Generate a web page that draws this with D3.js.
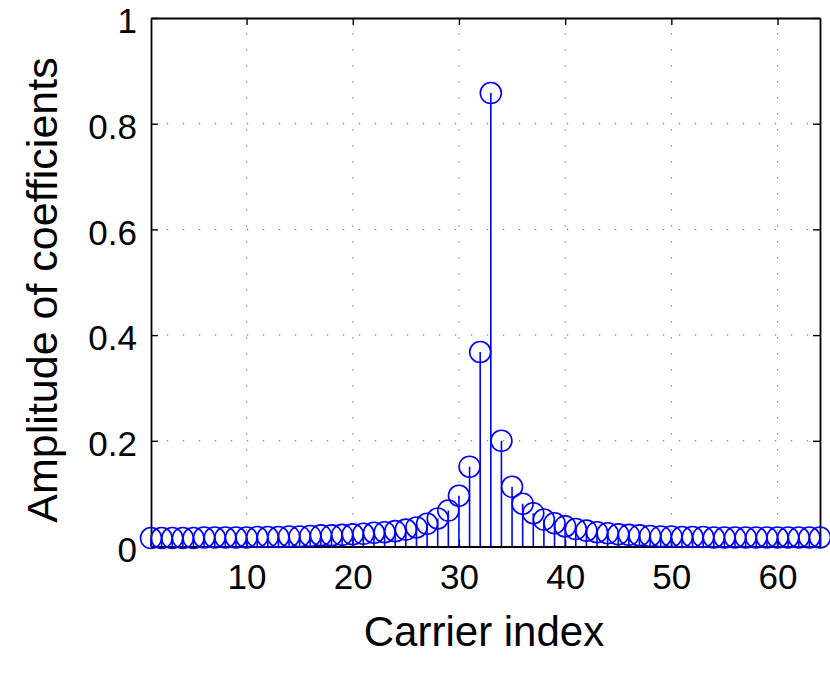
<!DOCTYPE html>
<html>
<head>
<meta charset="utf-8">
<script src="https://cdn.jsdelivr.net/npm/d3@7"></script>
<style>
  html, body { margin: 0; padding: 0; background: #fff; }
  svg { display: block; font-family: "Liberation Sans", Arial, Helvetica, sans-serif; }
</style>
</head>
<body>
<svg id="chart" width="830" height="677"></svg>
<script>
// Carrier indices 1..64 and the magnitude of each coefficient
const carriers = d3.range(1, 65);
const amplitudes = [
  0.016, 0.016, 0.016, 0.016, 0.016, 0.017, 0.017, 0.017, 0.017, 0.017,
  0.018, 0.018, 0.018, 0.019, 0.019, 0.020, 0.021, 0.021, 0.022, 0.023,
  0.024, 0.026, 0.027, 0.029, 0.032, 0.036, 0.043, 0.053, 0.068, 0.096,
  0.151, 0.368, 0.858, 0.200, 0.113, 0.081, 0.063, 0.051, 0.044, 0.038,
  0.033, 0.030, 0.027, 0.025, 0.023, 0.022, 0.021, 0.020, 0.019, 0.019,
  0.018, 0.018, 0.018, 0.017, 0.017, 0.017, 0.017, 0.017, 0.017, 0.017,
  0.017, 0.017, 0.017, 0.017
];
const xTicks = [10, 20, 30, 40, 50, 60];
const yTicks = [0, 0.2, 0.4, 0.6, 0.8, 1];
const xTitle = "Carrier index";
const yTitle = "Amplitude of coefficients";

const plot = { left: 151, right: 820, top: 18, bottom: 546.5 };
const svg = d3.select("#chart");

const x = d3.scaleLinear().domain([1, 64]).range([plot.left, plot.right]);
const y = d3.scaleLinear().domain([0, 1]).range([plot.bottom, plot.top]);

const fmtY = d => (d === 0 || d === 1) ? String(d) : d3.format(".1f")(d);

// Dotted grid
const grid = svg.append("g").attr("stroke", "#222").attr("stroke-width", 1)
  .attr("stroke-dasharray", "1.2,14.8").attr("opacity", 0.75);
grid.selectAll("line.gx").data(xTicks).join("line").attr("class", "gx")
  .attr("x1", d => x(d)).attr("x2", d => x(d))
  .attr("y1", plot.bottom).attr("y2", plot.top);
grid.selectAll("line.gy").data(yTicks.filter(d => d > 0 && d < 1)).join("line").attr("class", "gy")
  .attr("y1", d => y(d)).attr("y2", d => y(d))
  .attr("x1", plot.left).attr("x2", plot.right);

// Axes on all four sides, ticks pointing inward
function styleAxis(g) {
  g.selectAll("path.domain").attr("stroke", "#000").attr("stroke-width", 1.8);
  g.selectAll(".tick line").attr("stroke", "#000").attr("stroke-width", 1.4);
  g.selectAll("text").attr("fill", "#000").attr("font-size", 35)
    .attr("font-family", "'Liberation Sans', Arial, Helvetica, sans-serif");
}
svg.append("g").attr("transform", `translate(0,${plot.bottom})`)
  .call(d3.axisBottom(x).tickValues(xTicks).tickSizeInner(-7).tickSizeOuter(0).tickPadding(18))
  .call(styleAxis);
svg.append("g").attr("transform", `translate(0,${plot.top})`)
  .call(d3.axisTop(x).tickValues(xTicks).tickSizeInner(-7).tickSizeOuter(0).tickFormat(""))
  .call(styleAxis);
svg.append("g").attr("transform", `translate(${plot.left},0)`)
  .call(d3.axisLeft(y).tickValues(yTicks).tickSizeInner(-7).tickSizeOuter(0).tickPadding(14).tickFormat(fmtY))
  .call(styleAxis)
  .call(g => g.selectAll("text").attr("dy", "0.42em"));
svg.append("g").attr("transform", `translate(${plot.right},0)`)
  .call(d3.axisRight(y).tickValues(yTicks).tickSizeInner(-7).tickSizeOuter(0).tickFormat(""))
  .call(styleAxis);

// Stem plot
const data = carriers.map((c, i) => ({ c, v: amplitudes[i] }));
const stems = svg.append("g");
stems.selectAll("line").data(data).join("line")
  .attr("x1", d => x(d.c)).attr("x2", d => x(d.c))
  .attr("y1", y(0)).attr("y2", d => y(d.v))
  .attr("stroke", "#0000ff").attr("stroke-width", 1.6);
stems.selectAll("circle").data(data).join("circle")
  .attr("cx", d => x(d.c)).attr("cy", d => y(d.v)).attr("r", 10.5)
  .attr("fill", "none").attr("stroke", "#0000ff").attr("stroke-width", 1.6);

// Axis titles
svg.append("text").attr("x", 484).attr("y", 646).attr("text-anchor", "middle")
  .attr("font-size", 42).attr("fill", "#000").text(xTitle);
svg.append("text").attr("transform", "translate(57,290) rotate(-90)")
  .attr("text-anchor", "middle").attr("font-size", 43).attr("fill", "#000").text(yTitle);
</script>
</body>
</html>
